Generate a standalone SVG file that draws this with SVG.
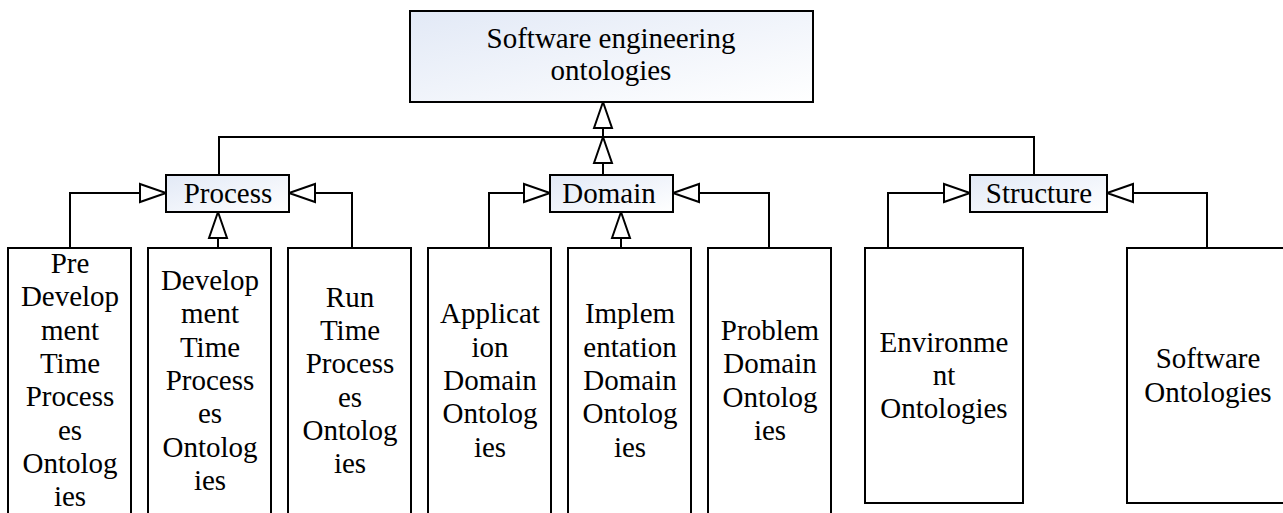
<svg xmlns="http://www.w3.org/2000/svg" width="1283" height="513" viewBox="0 0 1283 513" font-family="Liberation Serif" font-size="29">
<style>
.box{fill:#fff;stroke:#000;stroke-width:2}
.gbox{fill:url(#g);stroke:#000;stroke-width:2}
text{fill:#000;text-anchor:middle}
.c{fill:none;stroke:#000;stroke-width:2}
.ca{fill:none;stroke:#000;stroke-width:2;marker-end:url(#tri)}
</style>
<defs>
<linearGradient id="g" x1="0" y1="0" x2="1" y2="1">
<stop offset="0" stop-color="#e2e9f6"/>
<stop offset="1" stop-color="#ffffff"/>
</linearGradient>
<marker id="tri" markerUnits="userSpaceOnUse" markerWidth="30" markerHeight="22" refX="27" refY="11" orient="auto" overflow="visible">
<path d="M1,2 L27,11 L1,20 Z" fill="#fff" stroke="#000" stroke-width="2"/>
</marker>
</defs>
<g id="connectors">
<path class="c" d="M219,175 V137 H1034 V175"/>
<path class="ca" d="M603,175 V137"/>
<path class="ca" d="M603,137 V102"/>
<path class="ca" d="M70,248 V193 H166"/>
<path class="ca" d="M218,248 V212"/>
<path class="ca" d="M352,248 V193 H289"/>
<path class="ca" d="M489,248 V193 H550"/>
<path class="ca" d="M621,248 V212"/>
<path class="ca" d="M769,248 V193 H673"/>
<path class="ca" d="M888,248 V193 H970"/>
<path class="ca" d="M1207,248 V193 H1107"/>
</g>
<g id="root" font-family="Liberation Serif">
<rect class="gbox" x="410" y="11" width="403" height="91"/>
<text x="611" y="48">Software engineering</text>
<text x="611" y="80">ontologies</text>
</g>
<g id="process" font-family="Liberation Serif">
<rect class="gbox" x="166" y="175" width="123" height="37"/>
<text x="228" y="203">Process</text>
</g>
<g id="domain" font-family="Liberation Serif">
<rect class="gbox" x="550" y="175" width="123" height="37"/>
<text x="609" y="203">Domain</text>
</g>
<g id="structure" font-family="Liberation Serif">
<rect class="gbox" x="970" y="175" width="137" height="37"/>
<text x="1039" y="203">Structure</text>
</g>
<g id="pre-development" font-family="Liberation Serif">
<rect class="box" x="8" y="248" width="123" height="280"/>
<text x="70" y="273">Pre</text>
<text x="70" y="306">Develop</text>
<text x="70" y="340">ment</text>
<text x="70" y="373">Time</text>
<text x="70" y="406">Process</text>
<text x="70" y="440">es</text>
<text x="70" y="473">Ontolog</text>
<text x="70" y="506">ies</text>
</g>
<g id="development" font-family="Liberation Serif">
<rect class="box" x="148" y="248" width="123" height="280"/>
<text x="210" y="290">Develop</text>
<text x="210" y="323">ment</text>
<text x="210" y="357">Time</text>
<text x="210" y="390">Process</text>
<text x="210" y="423">es</text>
<text x="210" y="457">Ontolog</text>
<text x="210" y="490">ies</text>
</g>
<g id="runtime" font-family="Liberation Serif">
<rect class="box" x="288" y="248" width="123" height="280"/>
<text x="350" y="307">Run</text>
<text x="350" y="340">Time</text>
<text x="350" y="373">Process</text>
<text x="350" y="407">es</text>
<text x="350" y="440">Ontolog</text>
<text x="350" y="473">ies</text>
</g>
<g id="application" font-family="Liberation Serif">
<rect class="box" x="428" y="248" width="123" height="280"/>
<text x="490" y="323">Applicat</text>
<text x="490" y="357">ion</text>
<text x="490" y="390">Domain</text>
<text x="490" y="423">Ontolog</text>
<text x="490" y="457">ies</text>
</g>
<g id="implementation" font-family="Liberation Serif">
<rect class="box" x="568" y="248" width="123" height="280"/>
<text x="630" y="323">Implem</text>
<text x="630" y="357">entation</text>
<text x="630" y="390">Domain</text>
<text x="630" y="423">Ontolog</text>
<text x="630" y="457">ies</text>
</g>
<g id="problem" font-family="Liberation Serif">
<rect class="box" x="708" y="248" width="123" height="280"/>
<text x="770" y="340">Problem</text>
<text x="770" y="373">Domain</text>
<text x="770" y="407">Ontolog</text>
<text x="770" y="440">ies</text>
</g>
<g id="environment" font-family="Liberation Serif">
<rect class="box" x="865" y="248" width="158" height="255"/>
<text x="944" y="352">Environme</text>
<text x="944" y="385">nt</text>
<text x="944" y="418">Ontologies</text>
</g>
<g id="software" font-family="Liberation Serif">
<rect class="box" x="1127" y="248" width="160" height="255"/>
<text x="1208" y="368">Software</text>
<text x="1208" y="402">Ontologies</text>
</g>
</svg>
